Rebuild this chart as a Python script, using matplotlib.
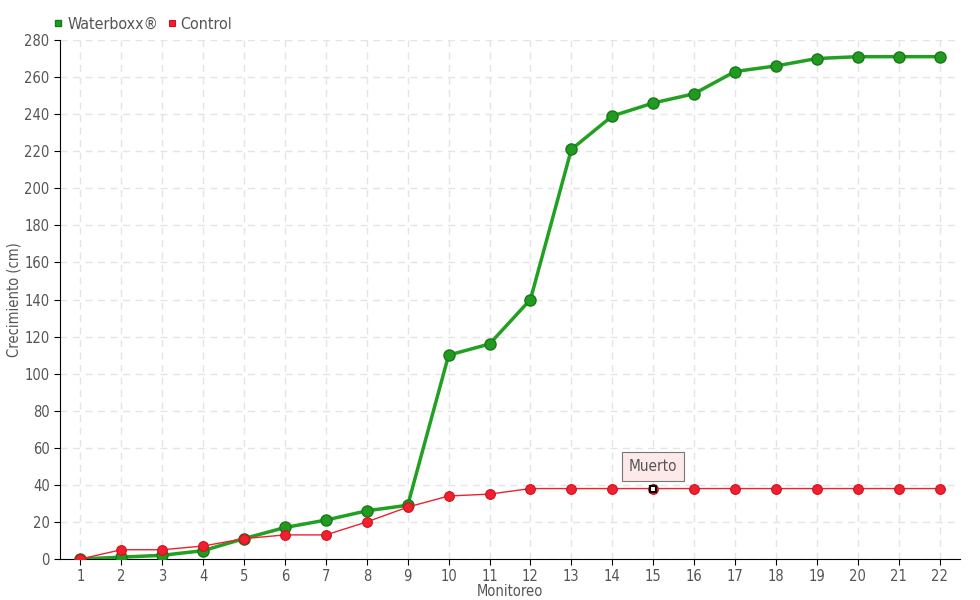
import numpy as np
import matplotlib.pyplot as plt
from matplotlib import font_manager

#Data
monitoreo = list(range(1, 23))
waterboxx = [0, 1, 2, 4.5, 11, 17, 21, 26, 29, 110, 116, 140, 221, 239, 246, 251, 263, 266, 270, 271, 271, 271]
control = [0, 5, 5, 7, 11, 13, 13, 20, 28, 34, 35, 38, 38, 38, 38, 38, 38, 38, 38, 38, 38, 38]
muerto_idx = 14
y_ticks = list(range(0, 281, 20))

names = set(f.name for f in font_manager.fontManager.ttflist)
if 'Liberation Sans Narrow' in names:
    plt.rcParams['font.family'] = ['Liberation Sans Narrow', 'DejaVu Sans']
else:
    plt.rcParams['font.family'] = ['DejaVu Sans']
    plt.rcParams['font.stretch'] = 'condensed'

fig = plt.figure(figsize=(9.8, 6), dpi=100)
ax = fig.add_axes([60/980, 41/600, 900/980, 519/600])

green = '#22a022'
red = '#f0202e'

ax.plot(monitoreo, waterboxx, color=green, lw=2.5, marker='o', ms=8,
        mfc='#229a22', mec='#177a17', mew=1, zorder=3, label='Waterboxx®')
ax.plot(monitoreo, control, color=red, lw=1, marker='o', ms=7,
        mfc=red, mec='#d01020', mew=0.8, zorder=4, label='Control')

#Highlight dead point
ax.plot(monitoreo[muerto_idx], control[muerto_idx], marker='s', ms=4.5, mfc='white',
        mec='black', mew=1.5, zorder=5)
ax.annotate('Muerto', xy=(monitoreo[muerto_idx], control[muerto_idx]),
            xytext=(0, 16), textcoords='offset points', ha='center', va='center',
            fontsize=11, color='#555555',
            bbox=dict(boxstyle='square,pad=0.45', fc='#fde9ea', ec='#777777', lw=0.8),
            zorder=6)

ax.set_xlim(0.5, 22.5)
ax.set_ylim(0, 280)
ax.set_xticks(monitoreo)
ax.set_yticks(y_ticks)
ax.grid(True, color='#e4e4e4', linestyle=(0, (5, 4)), lw=1)
ax.set_axisbelow(True)
for s in ['top', 'right']:
    ax.spines[s].set_visible(False)
ax.spines['left'].set_color('black')
ax.spines['bottom'].set_color('black')
ax.tick_params(direction='out', length=4, colors='black', labelcolor='#555555', labelsize=10.5)

ax.set_xlabel('Monitoreo', fontsize=10.5, color='#555555', labelpad=0)
ax.set_ylabel('Crecimiento (cm)', fontsize=10.5, color='#555555')
ax.yaxis.set_label_coords(-0.043, 0.5)

leg = ax.legend(loc='lower left', bbox_to_anchor=(-0.015, 1.0), ncol=2, frameon=False,
                fontsize=11.5, handlelength=0.5, handletextpad=0.3, columnspacing=0.6,
                borderaxespad=0.1)
for h in leg.legend_handles:
    h.set_linestyle('')
    h.set_marker('s')
    h.set_markersize(5)
for t in leg.get_texts():
    t.set_color('#555555')

plt.savefig('out.png', dpi=100)
